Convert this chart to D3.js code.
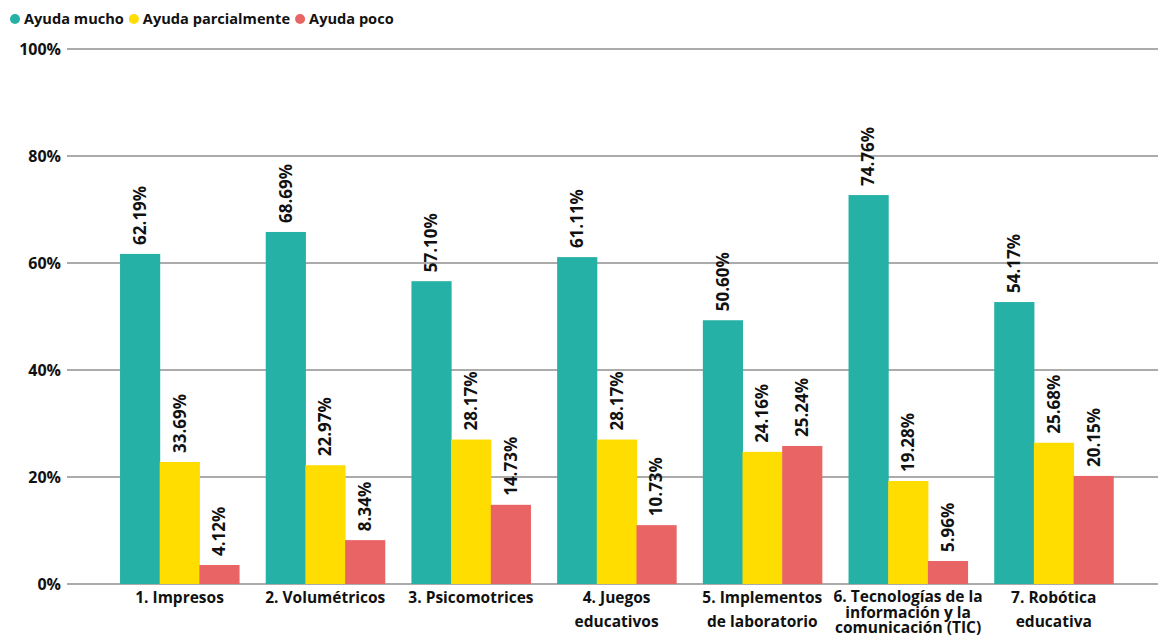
<!DOCTYPE html>
<html><head><meta charset="utf-8">
<script src="https://cdn.jsdelivr.net/npm/d3@7"></script>
<style>body{margin:0;background:#fff;} svg{display:block;font-family:"Open Sans",Lato,sans-serif;}</style>
</head><body>
<svg id="c" width="1161" height="636"></svg>
<script>
const categories = [["1. Impresos"],["2. Volumétricos"],["3. Psicomotrices"],["4. Juegos","educativos"],["5. Implementos","de laboratorio"],["6. Tecnologías de la","información y la","comunicación (TIC)"],["7. Robótica","educativa"]];
const seriesNames = ["Ayuda mucho","Ayuda parcialmente","Ayuda poco"];
const colors = ["#26B1A6","#FFDD00","#E96465"];
// bar heights as drawn
const mucho = [61.7,65.8,56.6,61.1,49.3,72.7,52.7];
const parcial = [22.8,22.2,27.0,27.0,24.7,19.25,26.4];
const poco = [3.55,8.2,14.8,11.0,25.8,4.3,20.2];
// labels as printed
const muchoLbl = ["62.19%","68.69%","57.10%","61.11%","50.60%","74.76%","54.17%"];
const parcialLbl = ["33.69%","22.97%","28.17%","28.17%","24.16%","19.28%","25.68%"];
const pocoLbl = ["4.12%","8.34%","14.73%","10.73%","25.24%","5.96%","20.15%"];
const yTicks = [0,20,40,60,80,100];

const svg = d3.select("#c");
const y = d3.scaleLinear().domain([0,100]).range([584,49]);
const x0 = d3.scaleBand().domain(d3.range(categories.length)).range([106.7,1126.6]).paddingInner(0.183).paddingOuter(0.0915);
const x1 = d3.scaleBand().domain([0,1,2]).range([0,x0.bandwidth()]);
const vals = [mucho,parcial,poco];
const lbls = [muchoLbl,parcialLbl,pocoLbl];

// grid
svg.append("g").selectAll("line").data(yTicks).join("line")
  .attr("x1",67).attr("x2",1158).attr("y1",d=>y(d)).attr("y2",d=>y(d))
  .attr("stroke","#ababab").attr("stroke-width",2);
svg.append("g").selectAll("text").data(yTicks).join("text")
  .attr("x",61).attr("y",d=>y(d)).attr("dy","0.35em").attr("text-anchor","end")
  .attr("font-weight","bold").attr("font-size",16).attr("fill","#111").text(d=>d+"%");

// bars
const g = svg.append("g");
categories.forEach((c,i)=>{
  vals.forEach((arr,s)=>{
    const bx = x0(i)+x1(s);
    g.append("rect").attr("x",bx).attr("y",y(arr[i])).attr("width",x1.bandwidth()+0.5)
      .attr("height",y(0)-y(arr[i])).attr("fill",colors[s]);
    const cx = bx + x1.bandwidth()/2, ty = y(arr[i]) - 9;
    g.append("text").attr("transform",`translate(${cx},${ty}) rotate(-90)`)
      .attr("dy","0.36em").attr("font-weight","bold").attr("font-size",17).attr("fill","#111")
      .text(lbls[s][i]);
  });
  const lines = c;
  const sp = lines.length===3 ? 15.5 : 24;
  const t = svg.append("text").attr("text-anchor","middle").attr("font-weight","bold")
    .attr("font-size",15.5).attr("fill","#111");
  lines.forEach((l,k)=>{
    t.append("tspan").attr("x",x0(i)+x0.bandwidth()/2).attr("y",(lines.length===3?597:598)+k*sp).attr("dy","0.35em").text(l);
  });
});

// legend
let lx = 10;
const lg = svg.append("g");
seriesNames.forEach((n,s)=>{
  lg.append("circle").attr("cx",lx+5).attr("cy",19).attr("r",5).attr("fill",colors[s]);
  const t = lg.append("text").attr("x",lx+14).attr("y",19).attr("dy","0.35em")
    .attr("font-weight","bold").attr("font-size",14.6).attr("fill","#111").text(n);
  lx += 14 + t.node().getComputedTextLength() + 5;
});
</script>
</body></html>
